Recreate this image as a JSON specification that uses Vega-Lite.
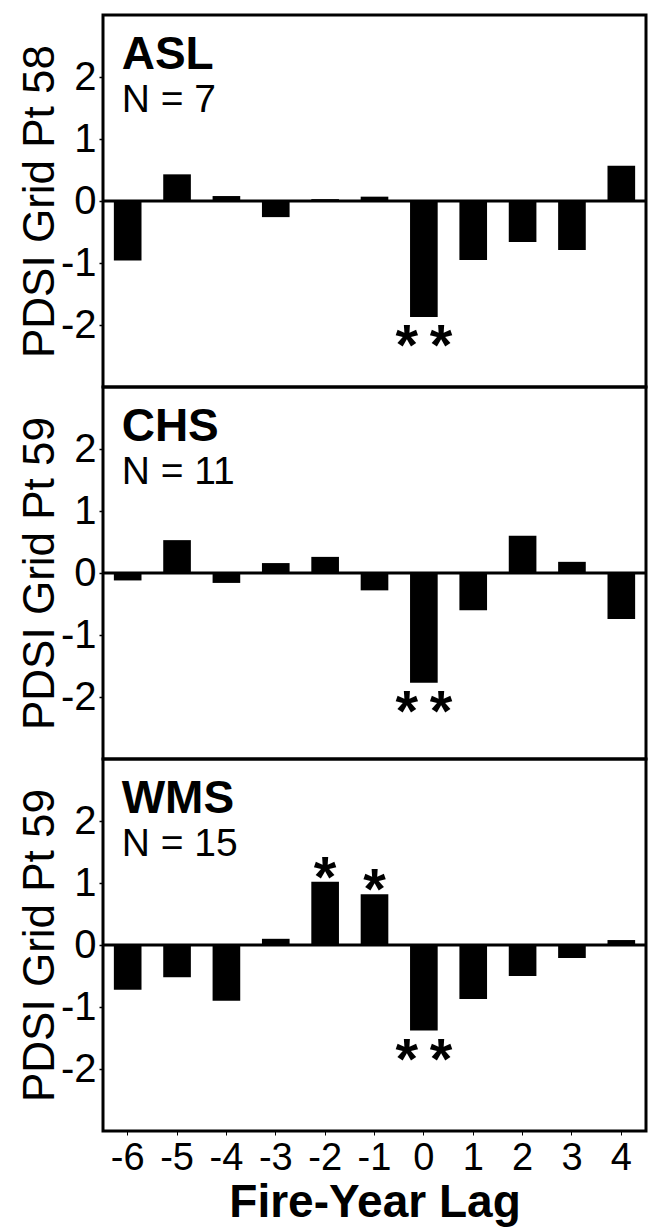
{
  "$schema": "https://vega.github.io/schema/vega-lite/v6.json",
  "padding": {"left": 16, "top": 13, "right": 2, "bottom": 0},
  "background": "white",
  "bounds": "flush",
  "spacing": 0,
  "config": {
    "font": "Liberation Sans",
    "view": {"stroke": "black", "strokeWidth": 3},
    "concat": {"spacing": 0},
    "axis": {"labelColor": "black", "titleColor": "black", "tickColor": "black", "grid": false, "domain": false}
  },
  "datasets": {
    "bars": [
      {"site": "ASL", "lag": -6, "pdsi": -0.96, "sig": ""},
      {"site": "ASL", "lag": -5, "pdsi": 0.43, "sig": ""},
      {"site": "ASL", "lag": -4, "pdsi": 0.08, "sig": ""},
      {"site": "ASL", "lag": -3, "pdsi": -0.26, "sig": ""},
      {"site": "ASL", "lag": -2, "pdsi": 0.03, "sig": ""},
      {"site": "ASL", "lag": -1, "pdsi": 0.07, "sig": ""},
      {"site": "ASL", "lag": 0, "pdsi": -1.87, "sig": "**"},
      {"site": "ASL", "lag": 1, "pdsi": -0.95, "sig": ""},
      {"site": "ASL", "lag": 2, "pdsi": -0.66, "sig": ""},
      {"site": "ASL", "lag": 3, "pdsi": -0.79, "sig": ""},
      {"site": "ASL", "lag": 4, "pdsi": 0.57, "sig": ""},
      {"site": "CHS", "lag": -6, "pdsi": -0.12, "sig": ""},
      {"site": "CHS", "lag": -5, "pdsi": 0.53, "sig": ""},
      {"site": "CHS", "lag": -4, "pdsi": -0.16, "sig": ""},
      {"site": "CHS", "lag": -3, "pdsi": 0.16, "sig": ""},
      {"site": "CHS", "lag": -2, "pdsi": 0.26, "sig": ""},
      {"site": "CHS", "lag": -1, "pdsi": -0.28, "sig": ""},
      {"site": "CHS", "lag": 0, "pdsi": -1.77, "sig": "**"},
      {"site": "CHS", "lag": 1, "pdsi": -0.6, "sig": ""},
      {"site": "CHS", "lag": 2, "pdsi": 0.6, "sig": ""},
      {"site": "CHS", "lag": 3, "pdsi": 0.18, "sig": ""},
      {"site": "CHS", "lag": 4, "pdsi": -0.74, "sig": ""},
      {"site": "WMS", "lag": -6, "pdsi": -0.72, "sig": ""},
      {"site": "WMS", "lag": -5, "pdsi": -0.52, "sig": ""},
      {"site": "WMS", "lag": -4, "pdsi": -0.9, "sig": ""},
      {"site": "WMS", "lag": -3, "pdsi": 0.1, "sig": ""},
      {"site": "WMS", "lag": -2, "pdsi": 1.02, "sig": "*"},
      {"site": "WMS", "lag": -1, "pdsi": 0.82, "sig": "*"},
      {"site": "WMS", "lag": 0, "pdsi": -1.38, "sig": "**"},
      {"site": "WMS", "lag": 1, "pdsi": -0.87, "sig": ""},
      {"site": "WMS", "lag": 2, "pdsi": -0.5, "sig": ""},
      {"site": "WMS", "lag": 3, "pdsi": -0.21, "sig": ""},
      {"site": "WMS", "lag": 4, "pdsi": 0.08, "sig": ""}
    ]
  },
  "vconcat": [
    {
      "width": 543, "height": 372,
      "data": {"name": "bars"},
      "transform": [{"filter": "datum.site === 'ASL'"}],
      "layer": [
        {
          "mark": {"type": "bar", "color": "black"},
          "encoding": {
            "x": {"field": "lag", "type": "ordinal", "scale": {"paddingInner": 0.44, "paddingOuter": 0.22}, "axis": null},
            "y": {"field": "pdsi", "type": "quantitative", "scale": {"domain": [-3, 3], "nice": false},
                  "axis": {"title": "PDSI Grid Pt 58", "values": [-2, -1, 0, 1, 2], "labelExpr": "'' + datum.value",
                           "tickSize": 4, "tickWidth": 1.5, "labelFontSize": 40, "labelPadding": 3,
                           "titleFontSize": 44, "titleFontWeight": "normal", "titlePadding": -2}}
          }
        },
        {
          "data": {"values": [{}]},
          "mark": {"type": "rule", "color": "black", "strokeWidth": 3},
          "encoding": {"y": {"datum": 0}}
        },
        {
          "data": {"values": [{}]},
          "mark": {"type": "text", "text": "ASL", "fontWeight": "bold", "fontSize": 46, "align": "left", "baseline": "alphabetic", "dx": -6},
          "encoding": {"x": {"datum": -6, "type": "ordinal"}, "y": {"datum": 2.13}}
        },
        {
          "data": {"values": [{}]},
          "mark": {"type": "text", "text": "N = 7", "fontSize": 39, "align": "left", "baseline": "alphabetic", "dx": -6},
          "encoding": {"x": {"datum": -6, "type": "ordinal"}, "y": {"datum": 1.44}}
        },
        {
          "transform": [{"filter": "datum.sig !== '' && datum.pdsi < 0"}, {"calculate": "replace(datum.sig, '**', '*\u2009*')", "as": "star"}],
          "mark": {"type": "text", "fontSize": 58, "fontWeight": "bold", "align": "center", "baseline": "alphabetic", "dy": 48},
          "encoding": {"x": {"field": "lag", "type": "ordinal"}, "y": {"field": "pdsi", "type": "quantitative"}, "text": {"field": "star"}}
        }
      ]
    },
    {
      "width": 543, "height": 372,
      "data": {"name": "bars"},
      "transform": [{"filter": "datum.site === 'CHS'"}],
      "layer": [
        {
          "mark": {"type": "bar", "color": "black"},
          "encoding": {
            "x": {"field": "lag", "type": "ordinal", "scale": {"paddingInner": 0.44, "paddingOuter": 0.22}, "axis": null},
            "y": {"field": "pdsi", "type": "quantitative", "scale": {"domain": [-3, 3], "nice": false},
                  "axis": {"title": "PDSI Grid Pt 59", "values": [-2, -1, 0, 1, 2], "labelExpr": "'' + datum.value",
                           "tickSize": 4, "tickWidth": 1.5, "labelFontSize": 40, "labelPadding": 3,
                           "titleFontSize": 44, "titleFontWeight": "normal", "titlePadding": -2}}
          }
        },
        {
          "data": {"values": [{}]},
          "mark": {"type": "rule", "color": "black", "strokeWidth": 3},
          "encoding": {"y": {"datum": 0}}
        },
        {
          "data": {"values": [{}]},
          "mark": {"type": "text", "text": "CHS", "fontWeight": "bold", "fontSize": 46, "align": "left", "baseline": "alphabetic", "dx": -6},
          "encoding": {"x": {"datum": -6, "type": "ordinal"}, "y": {"datum": 2.13}}
        },
        {
          "data": {"values": [{}]},
          "mark": {"type": "text", "text": "N = 11", "fontSize": 39, "align": "left", "baseline": "alphabetic", "dx": -6},
          "encoding": {"x": {"datum": -6, "type": "ordinal"}, "y": {"datum": 1.44}}
        },
        {
          "transform": [{"filter": "datum.sig !== '' && datum.pdsi < 0"}, {"calculate": "replace(datum.sig, '**', '*\u2009*')", "as": "star"}],
          "mark": {"type": "text", "fontSize": 58, "fontWeight": "bold", "align": "center", "baseline": "alphabetic", "dy": 48},
          "encoding": {"x": {"field": "lag", "type": "ordinal"}, "y": {"field": "pdsi", "type": "quantitative"}, "text": {"field": "star"}}
        }
      ]
    },
    {
      "width": 543, "height": 372,
      "data": {"name": "bars"},
      "transform": [{"filter": "datum.site === 'WMS'"}],
      "layer": [
        {
          "mark": {"type": "bar", "color": "black"},
          "encoding": {
            "x": {"field": "lag", "type": "ordinal", "scale": {"paddingInner": 0.44, "paddingOuter": 0.22},
                  "axis": {"title": "Fire-Year Lag", "labelAngle": 0, "labelFontSize": 38, "labelPadding": 4,
                           "tickSize": 4, "tickWidth": 1, "titleFontSize": 46, "titleFontWeight": "bold", "titlePadding": 3}},
            "y": {"field": "pdsi", "type": "quantitative", "scale": {"domain": [-3, 3], "nice": false},
                  "axis": {"title": "PDSI Grid Pt 59", "values": [-2, -1, 0, 1, 2], "labelExpr": "'' + datum.value",
                           "tickSize": 4, "tickWidth": 1.5, "labelFontSize": 40, "labelPadding": 3,
                           "titleFontSize": 44, "titleFontWeight": "normal", "titlePadding": -2}}
          }
        },
        {
          "data": {"values": [{}]},
          "mark": {"type": "rule", "color": "black", "strokeWidth": 3},
          "encoding": {"y": {"datum": 0}}
        },
        {
          "data": {"values": [{}]},
          "mark": {"type": "text", "text": "WMS", "fontWeight": "bold", "fontSize": 46, "align": "left", "baseline": "alphabetic", "dx": -6},
          "encoding": {"x": {"datum": -6, "type": "ordinal"}, "y": {"datum": 2.13}}
        },
        {
          "data": {"values": [{}]},
          "mark": {"type": "text", "text": "N = 15", "fontSize": 39, "align": "left", "baseline": "alphabetic", "dx": -6},
          "encoding": {"x": {"datum": -6, "type": "ordinal"}, "y": {"datum": 1.44}}
        },
        {
          "transform": [{"filter": "datum.sig !== '' && datum.pdsi < 0"}, {"calculate": "replace(datum.sig, '**', '*\u2009*')", "as": "star"}],
          "mark": {"type": "text", "fontSize": 58, "fontWeight": "bold", "align": "center", "baseline": "alphabetic", "dy": 48},
          "encoding": {"x": {"field": "lag", "type": "ordinal"}, "y": {"field": "pdsi", "type": "quantitative"}, "text": {"field": "star"}}
        },
        {
          "transform": [{"filter": "datum.sig !== '' && datum.pdsi > 0"}],
          "mark": {"type": "text", "fontSize": 58, "fontWeight": "bold", "align": "center", "baseline": "alphabetic", "dy": 15},
          "encoding": {"x": {"field": "lag", "type": "ordinal"}, "y": {"field": "pdsi", "type": "quantitative"}, "text": {"field": "sig"}}
        }
      ]
    }
  ]
}
